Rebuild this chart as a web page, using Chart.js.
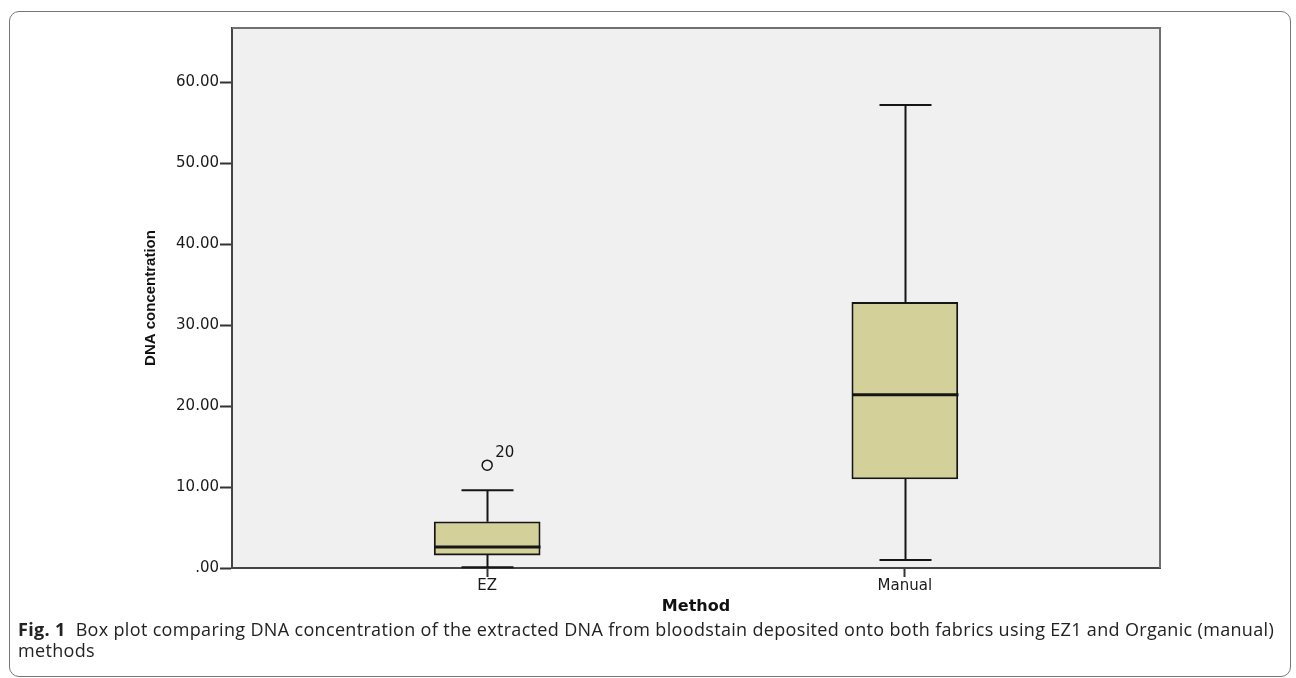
<!DOCTYPE html>
<html>
<head>
<meta charset="utf-8">
<script src="https://cdn.jsdelivr.net/npm/chart.js@4.4.0/dist/chart.umd.min.js"></script>
<style>
  body { margin: 0; background: #fff; width: 1296px; height: 678px; overflow: hidden; position: relative; }
  #frame { position: absolute; left: 9px; top: 11px; width: 1280px; height: 664px; border: 1px solid #777; border-radius: 10px; }
  #c { position: absolute; left: 0; top: 0; }
  #caption { position: absolute; left: 18px; top: 619px; font: 18px "Open Sans"; line-height: 21px; color: #222; white-space: nowrap; letter-spacing: 0.33px; }
</style>
</head>
<body>
<div id="frame"></div>
<canvas id="c" width="1296" height="620"></canvas>
<div id="caption"><b>Fig. 1</b>&nbsp; Box plot comparing DNA concentration of the extracted DNA from bloodstain deposited onto both fabrics using EZ1 and Organic (manual)<br>methods</div>
<script>
// data
const categories = ['EZ', 'Manual'];
const whiskerLow = [0.1, 1.0];
const q1 = [1.6, 11.0];
const median = [2.6, 21.4];
const q3 = [5.7, 32.8];
const whiskerHigh = [9.6, 57.2];
const outlierCategory = [0];
const outlierValues = [12.7];
const outlierLabels = ['20'];
const yTicks = [0, 10, 20, 30, 40, 50, 60];

const boxFill = '#d4d09a';
const ink = '#151515';

// whiskers, caps, medians and outlier case numbers
const boxParts = {
  id: 'boxParts',
  beforeDraw(chart) {
    const { ctx, chartArea: a } = chart;
    ctx.save();
    ctx.fillStyle = '#f0f0f0';
    ctx.fillRect(a.left, a.top, a.right - a.left, a.bottom - a.top);
    ctx.restore();
  },
  beforeDatasetsDraw(chart) {
    const { ctx, chartArea: a } = chart;
    ctx.save();
    ctx.strokeStyle = '#707070';
    ctx.lineWidth = 2;
    ctx.beginPath();
    ctx.moveTo(a.left, a.top);
    ctx.lineTo(a.right, a.top);
    ctx.lineTo(a.right, a.bottom);
    ctx.stroke();
    ctx.restore();
  },
  afterDatasetsDraw(chart) {
    const { ctx, scales: { x, y } } = chart;
    const capHalf = 26, boxHalf = 53;
    ctx.save();
    ctx.strokeStyle = ink;
    categories.forEach((c, i) => {
      const cx = Math.round(x.getPixelForValue(i)) + 0.5;
      ctx.lineWidth = 2;
      ctx.beginPath();
      ctx.moveTo(cx, y.getPixelForValue(q3[i]));
      ctx.lineTo(cx, y.getPixelForValue(whiskerHigh[i]));
      ctx.moveTo(cx, y.getPixelForValue(q1[i]));
      ctx.lineTo(cx, y.getPixelForValue(whiskerLow[i]));
      ctx.moveTo(cx - capHalf, y.getPixelForValue(whiskerHigh[i]));
      ctx.lineTo(cx + capHalf, y.getPixelForValue(whiskerHigh[i]));
      ctx.moveTo(cx - capHalf, y.getPixelForValue(whiskerLow[i]));
      ctx.lineTo(cx + capHalf, y.getPixelForValue(whiskerLow[i]));
      ctx.stroke();
      ctx.lineWidth = 3;
      ctx.beginPath();
      ctx.moveTo(cx - boxHalf, y.getPixelForValue(median[i]));
      ctx.lineTo(cx + boxHalf, y.getPixelForValue(median[i]));
      ctx.stroke();
    });
    ctx.fillStyle = ink;
    ctx.font = '15px "DejaVu Sans"';
    ctx.textBaseline = 'middle';
    outlierValues.forEach((v, k) => {
      const px = x.getPixelForValue(outlierCategory[k]);
      const py = y.getPixelForValue(v);
      ctx.fillText(outlierLabels[k], px + 8, py - 12);
    });
    ctx.restore();
  }
};

new Chart(document.getElementById('c'), {
  type: 'bar',
  data: {
    datasets: [{
      data: categories.map((c, i) => ({ x: i, y: [q1[i], q3[i]] })),
      backgroundColor: boxFill,
      borderColor: ink,
      borderWidth: 1.8,
      borderSkipped: false,
      barThickness: 106
    }, {
      type: 'scatter',
      data: outlierValues.map((v, k) => ({ x: outlierCategory[k], y: v })),
      pointStyle: 'circle',
      pointRadius: 5,
      pointBorderWidth: 1.5,
      pointBorderColor: ink,
      pointBackgroundColor: 'rgba(0,0,0,0)'
    }]
  },
  options: {
    responsive: false,
    animation: false,
    layout: { padding: { left: 136, right: 136, top: 28, bottom: 0 } },
    plugins: { legend: { display: false }, tooltip: { enabled: false } },
    scales: {
      x: {
        type: 'linear',
        offset: false,
        min: -0.611,
        max: 1.611,
        afterBuildTicks: (s) => { s.ticks = categories.map((c, i) => ({ value: i })); },
        afterFit: (s) => { s.height = 52; },
        ticks: {
          callback: (v) => categories[v],
          color: '#1a1a1a',
          font: { family: 'DejaVu Sans', size: 15 },
          padding: 0,
          maxRotation: 0
        },
        grid: { offset: false, drawOnChartArea: false, tickLength: 9, tickColor: '#333', tickWidth: 2 },
        border: { color: '#444', width: 2 },
        title: {
          display: true,
          text: 'Method',
          color: '#111',
          font: { family: 'DejaVu Sans', size: 16, weight: 'bold' },
          padding: { top: 0, bottom: 4 }
        }
      },
      y: {
        min: 0,
        max: 66.7,
        afterBuildTicks: (s) => { s.ticks = yTicks.map(v => ({ value: v })); },
        afterFit: (s) => { s.width = 96; },
        ticks: {
          callback: (v) => v === 0 ? '.00' : v.toFixed(2),
          color: '#1a1a1a',
          font: { family: 'DejaVu Sans', size: 15 },
          padding: 1
        },
        grid: { drawOnChartArea: false, tickLength: 12, tickColor: '#333', tickWidth: 2 },
        border: { color: '#444', width: 2 },
        title: {
          display: true,
          text: 'DNA concentration',
          color: '#111',
          font: { family: 'Liberation Sans', size: 15, weight: 'bold' },
          padding: { top: 6, bottom: 0 }
        }
      }
    }
  },
  plugins: [boxParts]
});
</script>
</body>
</html>
